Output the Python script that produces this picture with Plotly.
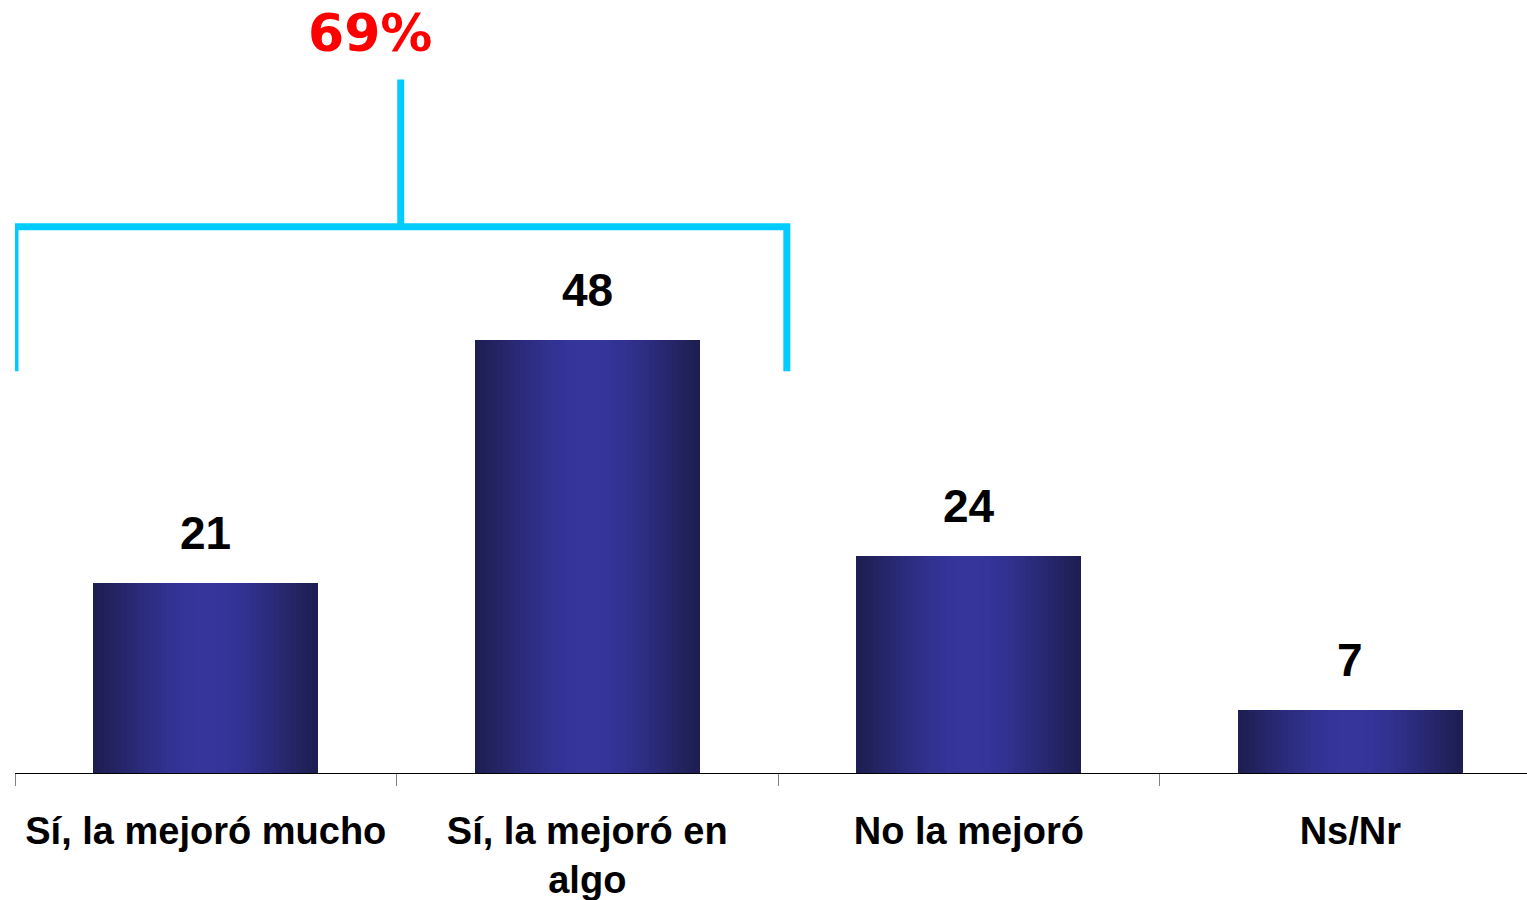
import plotly.graph_objects as go
import numpy as np

categories = ["Sí, la mejoró mucho", "Sí, la mejoró en<br>algo", "No la mejoró", "Ns/Nr"]
values = [21, 48, 24, 7]
value_labels = ["21", "48", "24", "7"]
combined_label = f"{values[0] + values[1]}%"

# style
edge_rgb = np.array([0x1E, 0x1E, 0x52])
center_rgb = np.array([0x35, 0x35, 0x9C])
N_SLICES = 40
BAR_W = 0.59
BRACKET_COLOR = "#00CCFF"

cat_labels = [f"<b>{c}</b>" for c in categories]

fig = go.Figure()
for i in range(N_SLICES):
    t = (i + 0.5) / N_SLICES
    k = np.sin(np.pi * t) ** 1.2
    rgb = edge_rgb + (center_rgb - edge_rgb) * k
    color = "rgb(%d,%d,%d)" % tuple(rgb.round().astype(int))
    sw = BAR_W / N_SLICES
    off = -BAR_W / 2 + i * sw if i < N_SLICES - 1 else BAR_W / 2 - sw * 1.15
    fig.add_trace(go.Bar(
        x=cat_labels, y=values,
        width=[sw * 1.15] * len(values),
        offset=[off] * len(values),
        marker=dict(color=color, line=dict(width=0)),
        showlegend=False, hoverinfo="skip",
    ))

for x, v, lab in zip(cat_labels, values, value_labels):
    fig.add_annotation(x=x, y=v, text=f"<b>{lab}</b>", showarrow=False, yanchor="bottom", yshift=22,
                       font=dict(family="Liberation Sans, Arial", size=46, color="black"))

# bracket over the first two categories
br_left, br_right, br_mid = -0.5, 1.523, 0.511
br_low, br_high, br_top = 44.5, 60.5, 76.8
fig.add_shape(type="path",
              path=f"M {br_left},{br_low} L {br_left},{br_high} L {br_right},{br_high} L {br_right},{br_low}",
              line=dict(color=BRACKET_COLOR, width=7), layer="above")
fig.add_shape(type="line", x0=br_mid, x1=br_mid, y0=br_high, y1=br_top,
              line=dict(color=BRACKET_COLOR, width=7), layer="above")
fig.add_annotation(x=0.431, y=82.0, text=f"<b>{combined_label}</b>", showarrow=False,
                   yanchor="middle", xanchor="center",
                   font=dict(family="DejaVu Sans", size=52, color="#FF0000"))

fig.update_layout(
    width=1527, height=900,
    margin=dict(l=15, r=0, t=0, b=127, autoexpand=False),
    paper_bgcolor="white", plot_bgcolor="white",
    barmode="overlay", bargap=0,
    xaxis=dict(
        type="category", categoryorder="array", categoryarray=cat_labels,
        range=[-0.5, 3.463], showline=True, linecolor="black", linewidth=1,
        ticks="outside", tickson="boundaries", ticklen=12, tickcolor="#808080", tickwidth=1,
        ticklabelstandoff=24,
        tickfont=dict(family="Liberation Sans, Arial", size=38, color="black"),
        showgrid=False, zeroline=False, fixedrange=True, automargin=False,
    ),
    yaxis=dict(range=[0, 85.6], visible=False, showgrid=False, zeroline=False, fixedrange=True),
)

fig.write_html("out.html", config={"displayModeBar": False},
               post_script="document.body.style.margin='0';document.body.style.overflow='hidden';")
